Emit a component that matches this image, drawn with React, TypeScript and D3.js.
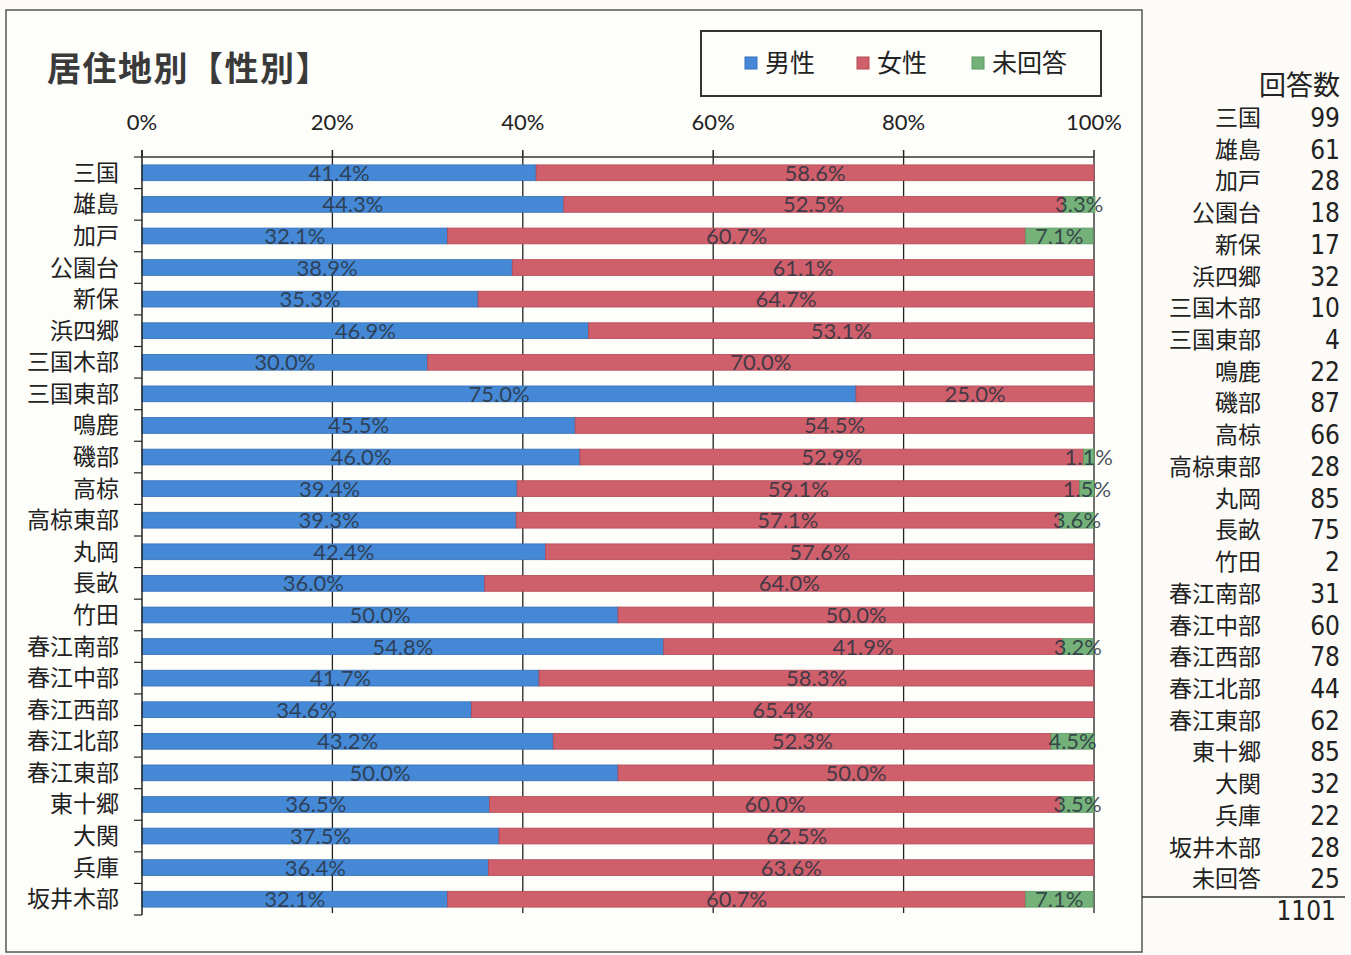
import React from "react";
import * as d3 from "d3";

const categories = ["三国","雄島","加戸","公園台","新保","浜四郷","三国木部","三国東部","鳴鹿","磯部","高椋","高椋東部","丸岡","長畝","竹田","春江南部","春江中部","春江西部","春江北部","春江東部","東十郷","大関","兵庫","坂井木部"];
const male = [41.4,44.3,32.1,38.9,35.3,46.9,30.0,75.0,45.5,46.0,39.4,39.3,42.4,36.0,50.0,54.8,41.7,34.6,43.2,50.0,36.5,37.5,36.4,32.1];
const female = [58.6,52.5,60.7,61.1,64.7,53.1,70.0,25.0,54.5,52.9,59.1,57.1,57.6,64.0,50.0,41.9,58.3,65.4,52.3,50.0,60.0,62.5,63.6,60.7];
const noAnswer = [0,3.3,7.1,0,0,0,0,0,0,1.1,1.5,3.6,0,0,0,3.2,0,0,4.5,0,3.5,0,0,7.1];
const seriesNames = ["男性","女性","未回答"];
const xTicks = [0,20,40,60,80,100];
const tableNames = [...categories, "未回答"];
const tableCounts = [99,61,28,18,17,32,10,4,22,87,66,28,85,75,2,31,60,78,44,62,85,32,22,28,25];
const total = 1101;

const colors = ["#4589d6", "#cf5f6b", "#74b27a"];
const strokes = ["#3570b8", "#b44a57", "#5a9a60"];
const CJK = "'Noto Sans CJK JP', 'Noto Sans', sans-serif";
const LAT = "Lato, 'Open Sans', sans-serif";
const NARROW = "'Liberation Sans Narrow', 'DejaVu Sans Condensed', 'Liberation Sans', sans-serif";

export default function App() {
  const W = 1351, H = 955;
  const x = d3.scaleLinear().domain([0, 100]).range([142, 1094]);
  const y = d3.scaleBand<string>().domain(categories).range([157, 915]).paddingInner(0.5).paddingOuter(0.25);
  const rows = categories.map((c, i) => ({ c, vals: [male[i], female[i], noAnswer[i]] }));
  const stack = d3.stack<any>().keys(["0", "1", "2"]).value((d: any, k: string) => d.vals[+k]);
  const stacked = stack(rows as any);
  const tableY = d3.scaleLinear().domain([0, 1]).range([118, 118 + 31.72]);

  return (
    <svg width={W} height={H} style={{ position: "absolute", left: 0, top: 0, background: "#fcfbf7" }}>
      <rect x={0} y={0} width={W} height={H} fill="#fcfbf7" />
      {/* chart frame */}
      <rect x={6} y={10} width={1136} height={942} fill="#fdfdfa" stroke="#555" strokeWidth={1.5} />
      {/* title */}
      <text x={47} y={81} fontFamily={CJK} fontWeight={700} fontSize={34} letterSpacing={1.5} fill="#3a3a3a">居住地別【性別】</text>
      {/* legend */}
      <rect x={701} y={31} width={400} height={65} fill="none" stroke="#333" strokeWidth={2} />
      {seriesNames.map((s, i) => {
        const lx = [745, 857, 972][i];
        return (
          <g key={s}>
            <rect x={lx} y={57} width={12} height={12} fill={colors[i]} stroke={strokes[i]} strokeWidth={1} />
            <text x={lx + 20} y={72} fontFamily={CJK} fontSize={25} fill="#222">{s}</text>
          </g>
        );
      })}
      {/* gridlines */}
      {xTicks.filter(t => t > 0).map(t => (
        <line key={t} x1={x(t)} x2={x(t)} y1={157} y2={913} stroke="#222" strokeWidth={1.3} />
      ))}
      {/* top axis */}
      <line x1={x(0)} x2={x(100)} y1={157} y2={157} stroke="#333" strokeWidth={1.5} />
      {xTicks.map(t => (
        <g key={"t" + t}>
          <line x1={x(t)} x2={x(t)} y1={150} y2={157} stroke="#222" strokeWidth={1.5} />
          <text x={x(t)} y={130} textAnchor="middle" fontFamily={LAT} fontSize={22} fill="#222">{t}%</text>
        </g>
      ))}
      {/* bars */}
      {stacked.map((layer, si) => (
        <g key={si}>
          {layer.map((d, i) => {
            const v = d[1] - d[0];
            if (v <= 0) return null;
            return (
              <rect key={i} x={x(d[0])} y={y(categories[i])!} width={x(d[1]) - x(d[0])} height={y.bandwidth()}
                fill={colors[si]} stroke={strokes[si]} strokeWidth={0.8} />
            );
          })}
        </g>
      ))}
      {/* labels */}
      {stacked.map((layer, si) => (
        <g key={"l" + si}>
          {layer.map((d, i) => {
            const v = d[1] - d[0];
            if (v <= 0) return null;
            return (
              <text key={i} x={x((d[0] + d[1]) / 2)} y={y(categories[i])! + y.bandwidth() / 2 + 8}
                textAnchor="middle" fontFamily={LAT} fontSize={22} fill="#2a3340" fillOpacity={0.85}>
                {v.toFixed(1)}%
              </text>
            );
          })}
        </g>
      ))}
      {/* left axis */}
      <line x1={x(0)} x2={x(0)} y1={150} y2={915} stroke="#222" strokeWidth={1.5} />
      {categories.map((c, i) => (
        <line key={"lt" + i} x1={134} x2={x(0)} y1={y(c)! - y.step() * 0.25} y2={y(c)! - y.step() * 0.25} stroke="#222" strokeWidth={1.2} />
      ))}
      <line x1={134} x2={x(0)} y1={915} y2={915} stroke="#222" strokeWidth={1.2} />
      {categories.map(c => (
        <text key={"c" + c} x={119} y={y(c)! + y.bandwidth() / 2 + 8} textAnchor="end" fontFamily={CJK} fontSize={23} fill="#222">{c}</text>
      ))}
      {/* right table */}
      <text x={1340} y={95} textAnchor="end" fontFamily={CJK} fontSize={27} fill="#222">回答数</text>
      {tableNames.map((n, i) => (
        <g key={"r" + i}>
          <text x={1261} y={tableY(i) + 8} textAnchor="end" fontFamily={CJK} fontSize={23} fill="#222">{n}</text>
          <text x={1340} y={tableY(i) + 9} textAnchor="end" fontFamily={NARROW} fontSize={26} fill="#222">{tableCounts[i]}</text>
        </g>
      ))}
      <line x1={1142} x2={1345} y1={897} y2={897} stroke="#333" strokeWidth={1.5} />
      <text x={1336} y={tableY(25) + 9} textAnchor="end" fontFamily={NARROW} fontSize={26} fill="#222">{total}</text>
    </svg>
  );
}
